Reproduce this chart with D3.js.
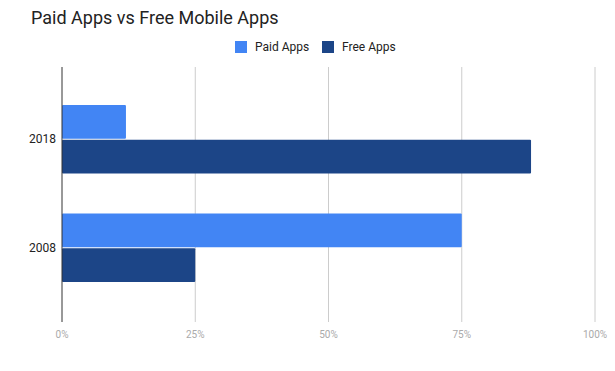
<!DOCTYPE html>
<html>
<head>
<meta charset="utf-8">
<script src="https://cdn.jsdelivr.net/npm/d3@7"></script>
<style>
  body { margin: 0; background: #fff; }
  text { font-family: Roboto, "Noto Sans", sans-serif; }
</style>
</head>
<body>
<svg id="chart" width="615" height="371"></svg>
<script>
var years = ["2018", "2008"]
  , seriesNames = ["Paid Apps", "Free Apps"]
  , paidApps = [12, 75]
  , freeApps = [88, 25]
  , xTicks = [0, 25, 50, 75, 100]
;
var colors = ["#4285f4", "#1c4587"];

var svg = d3.select("#chart")
  , plot = { left: 62, right: 595, top: 67, bottom: 322 }
;

var x = d3.scaleLinear().domain([0, 100]).range([plot.left, plot.right]);
var y = d3.scaleBand().domain(years).range([85, 302])
    .paddingInner(0.37).paddingOuter(0.185);
var sub = d3.scaleBand().domain(seriesNames).range([0, y.bandwidth()]).paddingInner(0.03);

// title
svg.append("text")
    .attr("x", 31).attr("y", 24)
    .attr("font-size", 18).attr("fill", "#222")
    .text("Paid Apps vs Free Mobile Apps");

// legend
var legend = svg.append("g").attr("transform", "translate(235,41)");
var lx = [0, 87];
seriesNames.forEach(function(s, i) {
    var g = legend.append("g").attr("transform", "translate(" + lx[i] + ",0)");
    g.append("rect").attr("width", 12).attr("height", 12).attr("fill", colors[i]);
    g.append("text").attr("x", 20).attr("y", 10).attr("font-size", 12)
        .attr("fill", "#222").text(s);
});

// gridlines
svg.append("g").selectAll("line")
    .data(xTicks.slice(1))
  .enter().append("line")
    .attr("x1", function(d) { return x(d); })
    .attr("x2", function(d) { return x(d); })
    .attr("y1", plot.top).attr("y2", plot.bottom)
    .attr("stroke", "#ccc").attr("stroke-width", 1);

// x tick labels
svg.append("g").selectAll("text")
    .data(xTicks)
  .enter().append("text")
    .attr("x", function(d) { return x(d); })
    .attr("y", 338)
    .attr("text-anchor", "middle")
    .attr("font-size", 10).attr("fill", "#aaa")
    .text(function(d) { return d + "%"; });

// bars
var rows = years.map(function(yr, i) {
    return { year: yr, values: [paidApps[i], freeApps[i]] };
});
var groups = svg.append("g").selectAll("g")
    .data(rows)
  .enter().append("g")
    .attr("transform", function(d) { return "translate(0," + y(d.year) + ")"; });
groups.selectAll("rect")
    .data(function(d) { return d.values.map(function(v, i) { return { s: seriesNames[i], v: v, i: i }; }); })
  .enter().append("rect")
    .attr("x", x(0))
    .attr("y", function(d) { return sub(d.s); })
    .attr("width", function(d) { return x(d.v) - x(0); })
    .attr("height", sub.bandwidth())
    .attr("rx", 1)
    .attr("fill", function(d) { return colors[d.i]; });

// y labels
svg.append("g").selectAll("text")
    .data(years)
  .enter().append("text")
    .attr("x", 56)
    .attr("y", function(d) { return y(d) + y.bandwidth() / 2 + 4; })
    .attr("text-anchor", "end")
    .attr("font-size", 12).attr("fill", "#222")
    .text(function(d) { return d; });

// baseline axis
svg.append("line")
    .attr("x1", x(0)).attr("x2", x(0))
    .attr("y1", plot.top).attr("y2", plot.bottom)
    .attr("stroke", "#333").attr("stroke-width", 1);
</script>
</body>
</html>
